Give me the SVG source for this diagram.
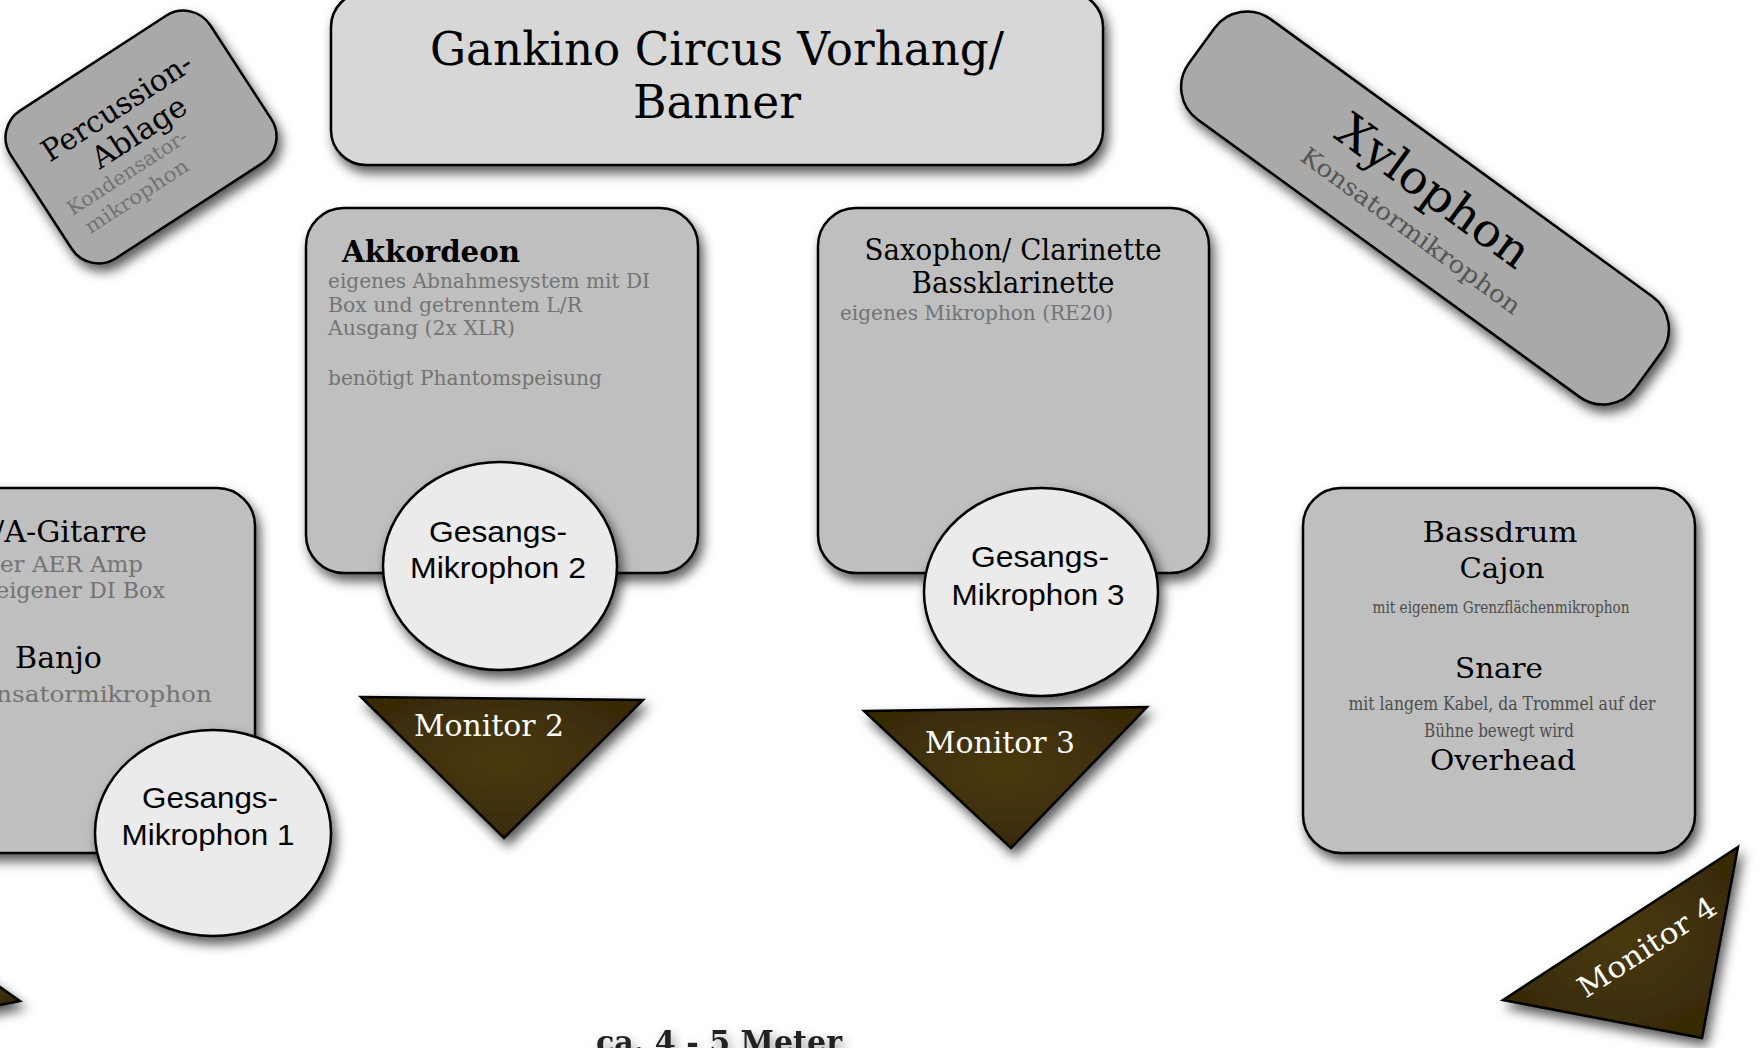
<svg xmlns="http://www.w3.org/2000/svg" width="1763" height="1048" viewBox="0 0 1763 1048">
<defs>
<filter id="sh" x="-20%" y="-20%" width="150%" height="150%">
<feDropShadow dx="4" dy="7" stdDeviation="6" flood-color="#000" flood-opacity="0.65"/>
</filter>
<filter id="tsh" x="-20%" y="-50%" width="140%" height="200%">
<feDropShadow dx="3" dy="6" stdDeviation="6" flood-color="#000" flood-opacity="0.45"/>
</filter>
<radialGradient id="mon" cx="50%" cy="45%" r="60%">
<stop offset="0" stop-color="#4a3910"/>
<stop offset="1" stop-color="#372905"/>
</radialGradient>
<style>
.box{fill:#bfbfbf;stroke:#000;stroke-width:2.5}
.dark{fill:#a9a9a9;stroke:#000;stroke-width:2.5}
.title{fill:#d7d7d7;stroke:#000;stroke-width:2.5}
.mic{fill:#ebebeb;stroke:#000;stroke-width:2.5}
.mon{fill:url(#mon);stroke:#000;stroke-width:2.5}
.tw{font-family:"DejaVu Serif","Liberation Serif",serif;fill:#000}
.twc{font-family:"DejaVu Serif Condensed","DejaVu Serif",serif}
.sub{font-family:"DejaVu Serif","Liberation Serif",serif;fill:#737373}
.sans{font-family:"Liberation Sans",Arial,sans-serif;fill:#000;font-size:30px}
.mt{font-family:"DejaVu Serif","Liberation Serif",serif;fill:#fff;font-size:29px}
.c{text-anchor:middle}
</style>
</defs>
<rect width="1763" height="1048" fill="#fff"/>
<g id="connectors"/>

<g id="percussion">
<g filter="url(#sh)"><g transform="translate(141,137) rotate(-33)"><rect class="dark" x="-119" y="-88" width="238" height="176" rx="32"/></g></g>
<g transform="translate(141,137) rotate(-33)">
<text class="tw c" x="-4" y="-28" font-size="30" textLength="173" lengthAdjust="spacingAndGlyphs">Percussion-</text>
<text class="tw c" x="1" y="5" font-size="30" textLength="107" lengthAdjust="spacingAndGlyphs">Ablage</text>
<text class="sub c" x="-31" y="29" font-size="20" textLength="139" lengthAdjust="spacingAndGlyphs">Kondensator-</text>
<text class="sub c" x="-36" y="54" font-size="20" textLength="119" lengthAdjust="spacingAndGlyphs">mikrophon</text>
</g>
</g>

<g id="banner">
<rect class="title" x="331" y="-8" width="772" height="173" rx="35" filter="url(#sh)"/>
<text class="tw c" x="717" y="65" font-size="46" textLength="574" lengthAdjust="spacingAndGlyphs">Gankino Circus Vorhang/</text>
<text class="tw c" x="717" y="118" font-size="46" textLength="168" lengthAdjust="spacingAndGlyphs">Banner</text>
</g>

<g id="xylophon">
<g filter="url(#sh)"><g transform="translate(1425,208) rotate(36)"><rect class="dark" x="-276" y="-62" width="552" height="124" rx="40"/></g></g>
<g transform="translate(1425,208) rotate(36)">
<text class="tw c" x="-3" y="-3" font-size="46" textLength="227" lengthAdjust="spacingAndGlyphs">Xylophon</text>
<text class="tw c" x="2" y="35" font-size="24" fill="#555" style="fill:#555" textLength="265" lengthAdjust="spacingAndGlyphs">Konsatormikrophon</text>
</g>
</g>

<g id="akkordeon">
<rect class="box" x="306" y="208" width="392" height="365" rx="38" filter="url(#sh)"/>
<text class="tw" x="342" y="262" font-size="30" font-weight="bold" textLength="178" lengthAdjust="spacingAndGlyphs">Akkordeon</text>
<text class="sub" x="328" y="288" font-size="20" textLength="322" lengthAdjust="spacingAndGlyphs">eigenes Abnahmesystem mit DI</text>
<text class="sub" x="328" y="312" font-size="20" textLength="254" lengthAdjust="spacingAndGlyphs">Box und getrenntem L/R</text>
<text class="sub" x="328" y="335" font-size="20" textLength="187" lengthAdjust="spacingAndGlyphs">Ausgang (2x XLR)</text>
<text class="sub" x="328" y="385" font-size="20" textLength="274" lengthAdjust="spacingAndGlyphs">benötigt Phantomspeisung</text>
</g>

<g id="saxophon">
<rect class="box" x="818" y="208" width="391" height="365" rx="38" filter="url(#sh)"/>
<text class="tw c" x="1013" y="260" font-size="29" textLength="297" lengthAdjust="spacingAndGlyphs">Saxophon/ Clarinette</text>
<text class="tw c" x="1013" y="293" font-size="29" textLength="203" lengthAdjust="spacingAndGlyphs">Bassklarinette</text>
<text class="sub" x="840" y="320" font-size="20" textLength="273" lengthAdjust="spacingAndGlyphs">eigenes Mikrophon (RE20)</text>
</g>

<g id="gitarre">
<rect class="box" x="-137" y="488" width="392" height="365" rx="38" filter="url(#sh)"/>
<text class="tw" x="-6" y="542" font-size="29" textLength="153" lengthAdjust="spacingAndGlyphs">/A-Gitarre</text>
<text class="sub" x="0" y="572" font-size="22" textLength="143" lengthAdjust="spacingAndGlyphs">er AER Amp</text>
<text class="sub" x="-4" y="598" font-size="22" textLength="169" lengthAdjust="spacingAndGlyphs">eigener DI Box</text>
<text class="tw" x="15" y="668" font-size="29" textLength="87" lengthAdjust="spacingAndGlyphs">Banjo</text>
<text class="sub" x="-4" y="702" font-size="22" textLength="216" lengthAdjust="spacingAndGlyphs">nsatormikrophon</text>
</g>

<g id="bassdrum">
<rect class="box" x="1303" y="488" width="392" height="365" rx="38" filter="url(#sh)"/>
<text class="tw c" x="1500" y="542" font-size="28" textLength="155" lengthAdjust="spacingAndGlyphs">Bassdrum</text>
<text class="tw c" x="1502" y="578" font-size="28" textLength="85" lengthAdjust="spacingAndGlyphs">Cajon</text>
<text class="twc c" x="1501" y="613" font-size="16" fill="#4d4d4d" textLength="257" lengthAdjust="spacingAndGlyphs">mit eigenem Grenzflächenmikrophon</text>
<text class="tw c" x="1499" y="678" font-size="28" textLength="88" lengthAdjust="spacingAndGlyphs">Snare</text>
<text class="twc c" x="1502" y="710" font-size="18" fill="#4d4d4d" textLength="307" lengthAdjust="spacingAndGlyphs">mit langem Kabel, da Trommel auf der</text>
<text class="twc c" x="1499" y="737" font-size="18" fill="#4d4d4d" textLength="150" lengthAdjust="spacingAndGlyphs">Bühne bewegt wird</text>
<text class="tw c" x="1503" y="770" font-size="28" textLength="146" lengthAdjust="spacingAndGlyphs">Overhead</text>
</g>

<g id="mic1">
<ellipse class="mic" cx="213" cy="833" rx="118" ry="103" filter="url(#sh)"/>
<text class="sans c" x="210" y="808" textLength="136" lengthAdjust="spacingAndGlyphs">Gesangs-</text>
<text class="sans c" x="208" y="845" textLength="173" lengthAdjust="spacingAndGlyphs">Mikrophon 1</text>
</g>

<g id="mic2">
<ellipse class="mic" cx="500" cy="566" rx="117" ry="104" filter="url(#sh)"/>
<text class="sans c" x="498" y="542" textLength="138" lengthAdjust="spacingAndGlyphs">Gesangs-</text>
<text class="sans c" x="498" y="578" textLength="176" lengthAdjust="spacingAndGlyphs">Mikrophon 2</text>
</g>

<g id="mic3">
<ellipse class="mic" cx="1041" cy="592" rx="117" ry="104" filter="url(#sh)"/>
<text class="sans c" x="1040" y="567" textLength="138" lengthAdjust="spacingAndGlyphs">Gesangs-</text>
<text class="sans c" x="1038" y="605" textLength="173" lengthAdjust="spacingAndGlyphs">Mikrophon 3</text>
</g>

<g id="monitor1">
<polygon class="mon" points="-100,917 20,1001 -100,1025" filter="url(#sh)"/>
</g>

<g id="monitor2">
<polygon class="mon" points="361,697 643,700 504,838" filter="url(#sh)"/>
<text class="mt c" x="489" y="736" textLength="150" lengthAdjust="spacingAndGlyphs">Monitor 2</text>
</g>

<g id="monitor3">
<polygon class="mon" points="864,711 1147,707 1011,848" filter="url(#sh)"/>
<text class="mt c" x="1000" y="753" textLength="150" lengthAdjust="spacingAndGlyphs">Monitor 3</text>
</g>

<g id="monitor4">
<polygon class="mon" points="1738,847 1503,1000 1702,1038" filter="url(#sh)"/>
<text class="mt c" transform="translate(1647,947) rotate(-33)" x="0" y="10" textLength="159" lengthAdjust="spacingAndGlyphs">Monitor 4</text>
</g>

<g id="distance">
<text class="tw c" x="719" y="1053" font-size="32" font-weight="bold" fill="#222" style="fill:#222" filter="url(#tsh)" textLength="246" lengthAdjust="spacingAndGlyphs">ca. 4 - 5 Meter</text>
</g>
</svg>
